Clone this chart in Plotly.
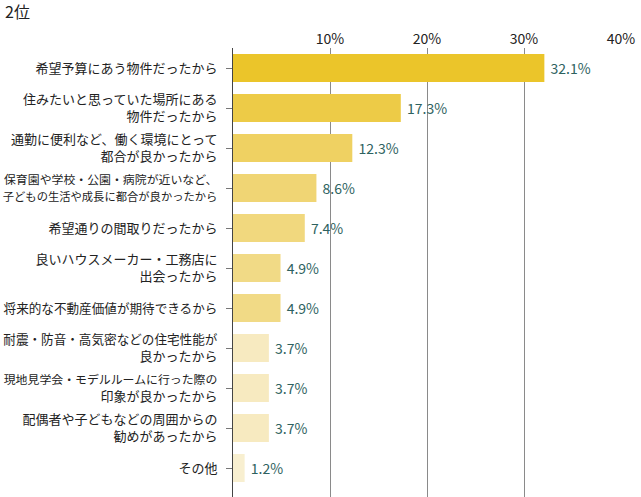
import plotly.graph_objects as go

categories = [
    "希望予算にあう物件だったから",
    "住みたいと思っていた場所にある<br>物件だったから",
    "通勤に便利など、働く環境にとって<br>都合が良かったから",
    "保育園や学校・公園・病院が近いなど、<br>子どもの生活や成長に都合が良かったから",
    "希望通りの間取りだったから",
    "良いハウスメーカー・工務店に<br>出会ったから",
    "将来的な不動産価値が期待できるから",
    "耐震・防音・高気密などの住宅性能が<br>良かったから",
    "現地見学会・モデルルームに行った際の<br>印象が良かったから",
    "配偶者や子どもなどの周囲からの<br>勧めがあったから",
    "その他",
]
values = [32.1, 17.3, 12.3, 8.6, 7.4, 4.9, 4.9, 3.7, 3.7, 3.7, 1.2]
value_labels = ["32.1%", "17.3%", "12.3%", "8.6%", "7.4%", "4.9%", "4.9%", "3.7%", "3.7%", "3.7%", "1.2%"]
tick_vals = [10, 20, 30, 40]
tick_text = ["10%", "20%", "30%", "40%"]
title_text = "2位"
colors = ["#ebc52a", "#edcb47", "#efd162", "#f0d574", "#f1d87e", "#f1da86", "#f1da86",
          "#f7eac0", "#f7eac0", "#f7eac0", "#f8efd0"]

FONT = "Noto Sans CJK JP"
BASE = 13
AVAIL = 214


def fit_label(label):
    lines = label.split("<br>")
    out = []
    for ln in lines:
        size = min(BASE, AVAIL / len(ln))
        if size < BASE:
            out.append('<span style="font-size:%.1fpx">%s</span>' % (size, ln))
        else:
            out.append(ln)
    return "<br>".join(out)


fig = go.Figure(go.Bar(
    x=values,
    y=categories,
    orientation="h",
    marker=dict(color=colors, line=dict(width=0)),
    width=0.7,
    text=["\u00a0" + t for t in value_labels],
    textposition="outside",
    textfont=dict(color="#2e6260", size=14, family=FONT),
    cliponaxis=False,
))

fig.add_annotation(
    text=title_text, xref="paper", yref="paper",
    x=-0.5928, y=1.0824, xanchor="left", yanchor="middle",
    showarrow=False, font=dict(size=16, color="#222222", family=FONT),
)

fig.update_layout(
    width=641,
    height=497,
    margin=dict(l=233, r=20, t=48, b=0, autoexpand=False),
    paper_bgcolor="white",
    plot_bgcolor="white",
    font=dict(family=FONT, color="#222222"),
    showlegend=False,
    xaxis=dict(
        side="top",
        range=[0, 40],
        tickvals=tick_vals,
        ticktext=tick_text,
        showgrid=True,
        gridcolor="#8a8a8a",
        gridwidth=1,
        zeroline=False,
        showline=False,
        ticks="",
        tickfont=dict(size=14, color="#222222"),
        automargin=False,
        fixedrange=True,
    ),
    yaxis=dict(
        tickmode="array",
        tickvals=categories,
        ticktext=[fit_label(c) for c in categories],
        categoryorder="array",
        categoryarray=categories,
        range=[10.725, -0.5],
        showline=True,
        linecolor="#444444",
        linewidth=1,
        ticks="outside",
        ticklen=6,
        tickcolor="#777777",
        tickwidth=1,
        ticklabelstandoff=6,
        tickfont=dict(size=BASE, color="#222222"),
        showgrid=False,
        automargin=False,
    ),
)

fig.write_html("out.html", config={"displayModeBar": False},
               post_script="document.body.style.margin='0';")
